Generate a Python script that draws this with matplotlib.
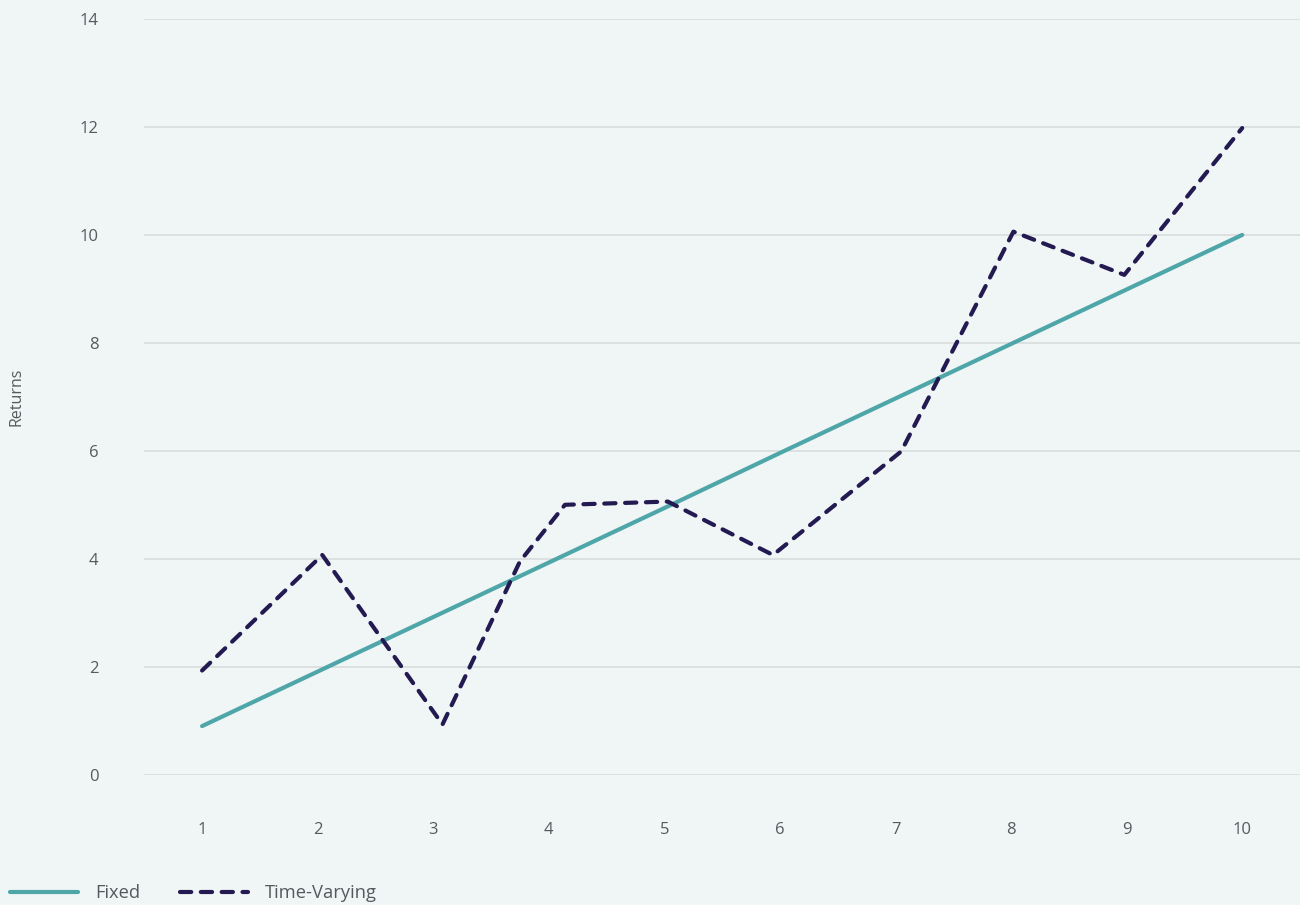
import matplotlib.pyplot as plt

# data
periods = [1, 2, 3, 4, 5, 6, 7, 8, 9, 10]
fixed = [0.9, 1.91, 2.92, 3.93, 4.94, 5.96, 6.97, 7.98, 8.99, 10.0]

tv_x = [1, 2.04, 3.08, 3.75, 4.14, 5.03, 5.94, 7.05, 8.02, 8.98, 10]
tv_y = [1.93, 4.07, 0.93, 3.95, 5.0, 5.06, 4.07, 5.99, 10.06, 9.26, 11.98]

y_ticks = [0, 2, 4, 6, 8, 10, 12, 14]

BG = "#f0f6f6"
TEAL = "#4fa6a9"
NAVY = "#241a52"
GRID = "#d8dcdd"
TXT = "#555a5e"

plt.rcParams["font.family"] = ["Open Sans", "DejaVu Sans"]

fig = plt.figure(figsize=(13, 9.05), dpi=100, facecolor=BG)
ax = fig.add_axes([0.111, 0.144, 0.889, 0.835])
ax.set_facecolor(BG)

ax.plot(periods, fixed, color=TEAL, lw=3, solid_capstyle="round", label="Fixed", zorder=3)
ax.plot(tv_x, tv_y, color=NAVY, lw=3, dashes=(2.7, 2.3), dash_capstyle="round",
        label="Time-Varying", zorder=4)

ax.set_xlim(0.5, 10.5)
ax.set_ylim(0, 14)
ax.set_xticks(periods)
ax.set_yticks(y_ticks)
ax.grid(axis="y", color=GRID, lw=1.2)
ax.set_axisbelow(True)
for s in ax.spines.values():
    s.set_visible(False)
ax.tick_params(axis="both", length=0, labelsize=12, labelcolor=TXT)
ax.tick_params(axis="y", pad=33)
ax.tick_params(axis="x", pad=34)
ax.set_ylabel("Returns", fontsize=11.5, color=TXT)
ax.yaxis.set_label_coords(-0.104, 0.5)

fig.legend(loc="lower left", bbox_to_anchor=(10 / 1300, 0.003), ncol=2, frameon=False,
           fontsize=13.2, labelcolor=TXT, handlelength=3.7, handletextpad=0.95,
           columnspacing=2.15, borderpad=0, borderaxespad=0)

fig.savefig("out.png", dpi=100, facecolor=BG)
